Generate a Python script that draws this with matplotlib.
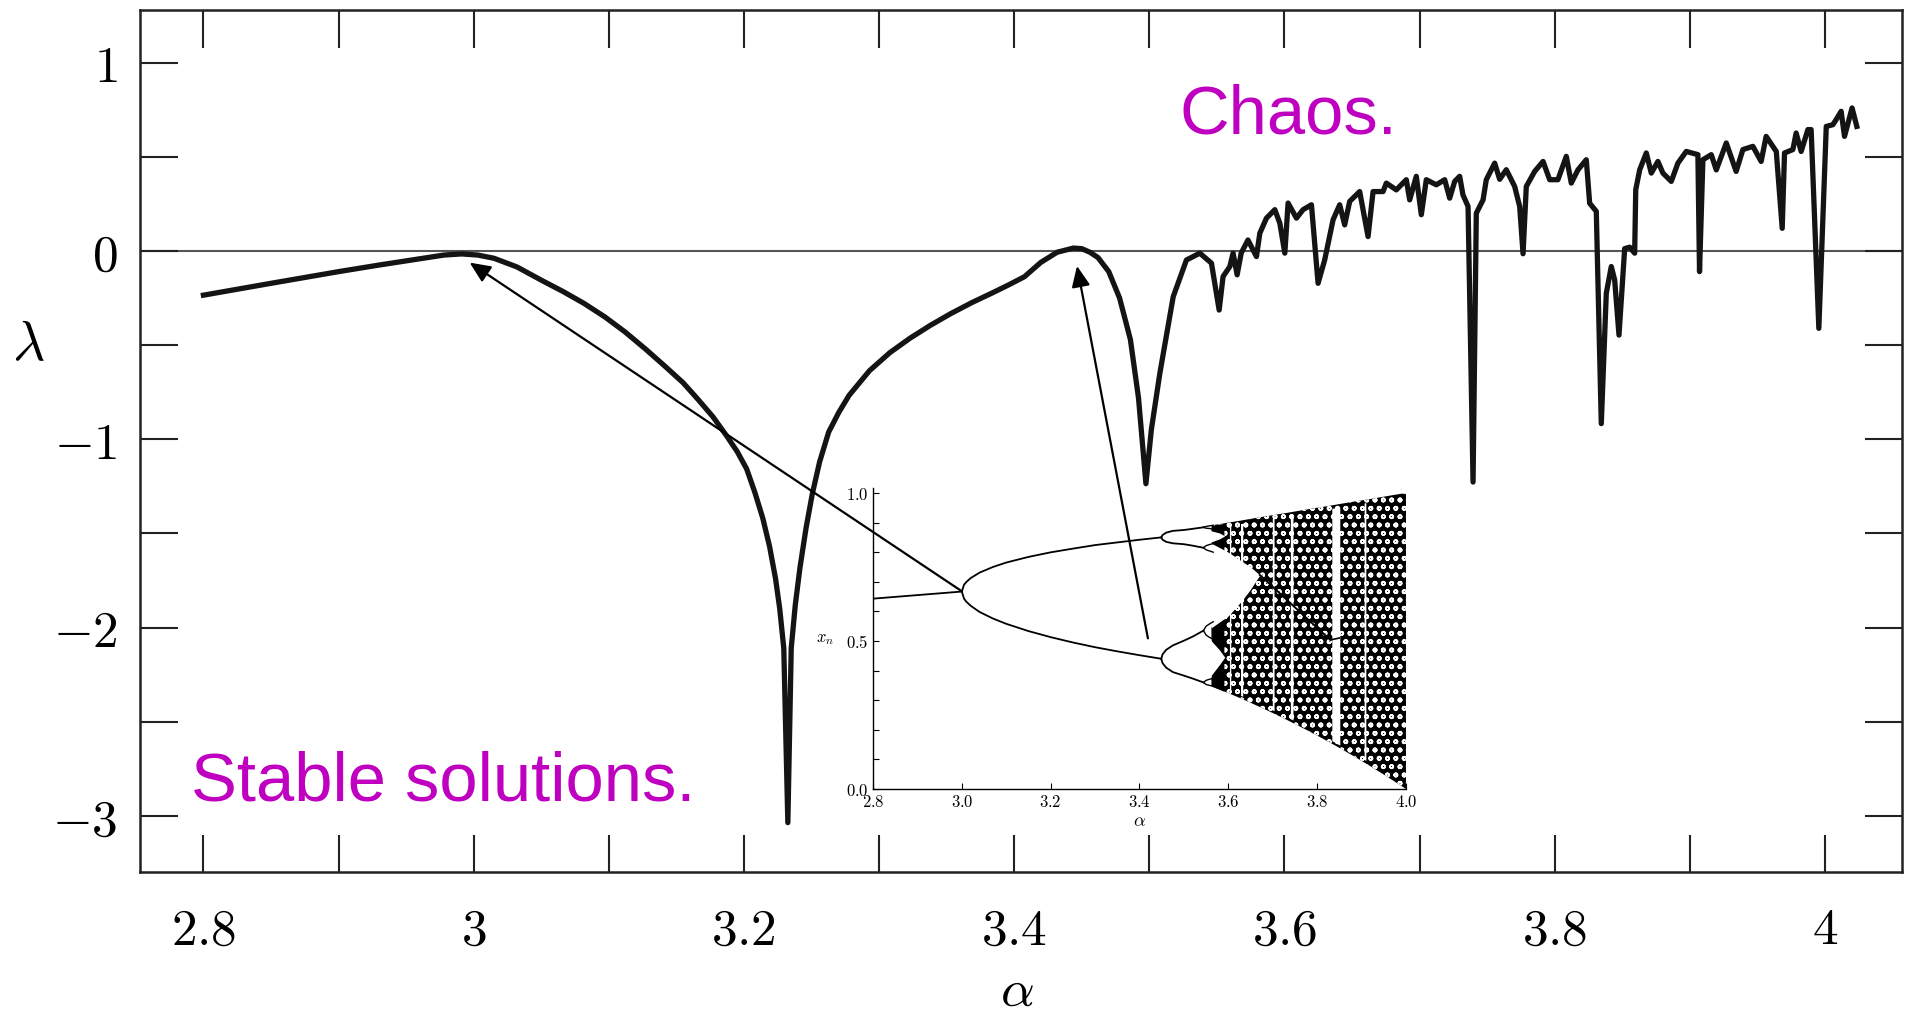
import numpy as np
import matplotlib.pyplot as plt
from matplotlib.ticker import MultipleLocator, FuncFormatter

plt.rcParams['mathtext.fontset'] = 'cm'
plt.rcParams['hatch.color'] = 'white'
plt.rcParams['hatch.linewidth'] = 1.2

# Exposant de Lyapunov
alpha = [2.800, 2.850, 2.900, 2.930, 2.960, 2.978, 2.991, 3.003, 3.015, 3.032,
         3.051, 3.066, 3.0815, 3.097, 3.112, 3.127, 3.142, 3.155, 3.166, 3.177,
         3.187, 3.195, 3.202, 3.208, 3.214, 3.219, 3.2234, 3.2265, 3.2295, 3.2325,
         3.235, 3.238, 3.2415, 3.246, 3.2506, 3.256, 3.2627, 3.270, 3.2778, 3.2929,
         3.308, 3.323, 3.338, 3.3533, 3.3685, 3.3835, 3.396, 3.4076, 3.4197, 3.4318,
         3.4438, 3.450, 3.456, 3.462, 3.470, 3.478, 3.486, 3.492, 3.4975, 3.5015,
         3.5078, 3.5177, 3.5275,
         3.5374, 3.546, 3.5517, 3.5546, 3.5596, 3.562, 3.565, 3.568, 3.573, 3.5793,
         3.5818, 3.5867, 3.5929, 3.5966, 3.6003, 3.6027, 3.6089, 3.6138, 3.620, 3.6249,
         3.6298, 3.636, 3.6409, 3.6446, 3.6483, 3.6557, 3.6619, 3.6656, 3.673, 3.6754,
         3.6828, 3.6902, 3.6927, 3.6976, 3.7013, 3.705, 3.7124, 3.7186, 3.7223, 3.726,
         3.7297, 3.7321, 3.7359, 3.7396, 3.742, 3.747, 3.7494, 3.7556, 3.7593, 3.7642,
         3.7704, 3.7741, 3.7766, 3.779, 3.7852, 3.7914, 3.7963, 3.8024, 3.8086, 3.8123,
         3.8172, 3.8234, 3.8259, 3.8308, 3.8345, 3.8382, 3.8419, 3.8444, 3.8476, 3.8518,
         3.8555, 3.8592, 3.8600, 3.8629, 3.8678, 3.8715, 3.8764, 3.8801, 3.8863, 3.8912,
         3.8974, 3.9060, 3.9072, 3.9097, 3.9159, 3.9196, 3.9270, 3.9343, 3.9393, 3.9467,
         3.9528, 3.9565, 3.9640, 3.9684, 3.9701, 3.9763, 3.9787, 3.9824, 3.9874, 3.9898,
         3.9955, 4.0010, 4.0059, 4.0083, 4.0120, 4.0145, 4.0201, 4.0236]
lam = [-0.235, -0.172, -0.110, -0.075, -0.042, -0.022, -0.016, -0.022, -0.039, -0.085,
       -0.159, -0.215, -0.278, -0.350, -0.430, -0.520, -0.615, -0.700, -0.788, -0.880,
       -0.980, -1.065, -1.157, -1.280, -1.420, -1.570, -1.740, -1.900, -2.110, -3.035,
       -2.110, -1.880, -1.680, -1.470, -1.290, -1.120, -0.962, -0.860, -0.767, -0.636,
       -0.540, -0.463, -0.395, -0.332, -0.275, -0.224, -0.180, -0.137, -0.061, -0.007,
       0.015, 0.012, -0.007, -0.035, -0.110, -0.250, -0.470, -0.780, -1.236, -0.950,
       -0.650, -0.243, -0.048,
       -0.012, -0.065, -0.314, -0.136, -0.083, -0.012, -0.127, -0.012, 0.058, -0.030,
       0.094, 0.174, 0.219, 0.147, -0.012, 0.254, 0.174, 0.219, 0.245, -0.172,
       -0.048, 0.165, 0.245, 0.138, 0.263, 0.315, 0.076, 0.315, 0.315, 0.360,
       0.324, 0.378, 0.271, 0.396, 0.192, 0.378, 0.351, 0.378, 0.280, 0.369,
       0.396, 0.298, 0.236, -1.227, 0.200, 0.271, 0.378, 0.466, 0.380, 0.431,
       0.342, 0.236, -0.015, 0.342, 0.422, 0.475, 0.378, 0.378, 0.502, 0.360,
       0.430, 0.484, 0.253, 0.210, -0.917, -0.225, -0.083, -0.154, -0.447, 0.012,
       0.020, -0.012, 0.325, 0.430, 0.520, 0.413, 0.475, 0.413, 0.369, 0.466,
       0.528, 0.511, -0.110, 0.484, 0.511, 0.430, 0.573, 0.422, 0.538, 0.555,
       0.475, 0.608, 0.528, 0.120, 0.520, 0.538, 0.626, 0.528, 0.644, 0.644,
       -0.411, 0.661, 0.670, 0.697, 0.741, 0.608, 0.759, 0.661]

# Diagramme de bifurcation (encart)
p1_r = [2.8, 2.9, 3.0]
p1_x = [0.643, 0.655, 0.667]

p2_r = [3.0, 3.005, 3.01, 3.02, 3.04, 3.07, 3.1, 3.15, 3.2, 3.25, 3.3, 3.35, 3.4, 3.449]
p2_hi = [0.667, 0.690, 0.699, 0.7125, 0.731, 0.750, 0.765, 0.784, 0.7995, 0.812, 0.824, 0.833, 0.842, 0.850]
p2_lo = [0.667, 0.643, 0.633, 0.619, 0.598, 0.576, 0.558, 0.5335, 0.513, 0.495, 0.479, 0.465, 0.452, 0.440]

p4_r = [3.449, 3.452, 3.46, 3.475, 3.5, 3.52, 3.544]
p4_a = [0.850, 0.858, 0.866, 0.872, 0.875, 0.879, 0.884]
p4_b = [0.850, 0.842, 0.835, 0.830, 0.827, 0.822, 0.815]
p4_c = [0.440, 0.455, 0.470, 0.485, 0.501, 0.515, 0.535]
p4_d = [0.440, 0.425, 0.410, 0.395, 0.383, 0.373, 0.360]

p8_r = [3.544, 3.55, 3.558, 3.566]
p8 = [[0.884, 0.887, 0.889, 0.891], [0.884, 0.881, 0.880, 0.878],
      [0.815, 0.822, 0.826, 0.829], [0.815, 0.808, 0.804, 0.800],
      [0.535, 0.550, 0.558, 0.565], [0.535, 0.520, 0.512, 0.505],
      [0.360, 0.367, 0.371, 0.373], [0.360, 0.353, 0.350, 0.347]]

ch_r = [3.562, 3.58, 3.60, 3.625, 3.65, 3.675, 3.70, 3.725, 3.75, 3.775,
        3.80, 3.825, 3.85, 3.875, 3.90, 3.925, 3.95, 3.975, 4.0]
ch_top = [0.8905, 0.895, 0.900, 0.906, 0.9125, 0.919, 0.925, 0.931, 0.9375, 0.944,
          0.950, 0.956, 0.9625, 0.969, 0.975, 0.981, 0.9875, 0.994, 1.0]
ch_bot = [0.3473, 0.3364, 0.324, 0.308, 0.2914, 0.2743, 0.2567, 0.2385, 0.2197, 0.2004,
          0.1805, 0.160, 0.139, 0.1173, 0.0951, 0.0722, 0.0488, 0.0247, 0.0]
# debut du chaos, plus dense
dense_r = [3.562, 3.58, 3.59]

gap_r = [3.556, 3.562, 3.60, 3.63, 3.65, 3.671]
gap_top = [0.826, 0.83, 0.80, 0.77, 0.75, 0.723]
gap_bot = [0.568, 0.545, 0.585, 0.635, 0.675, 0.723]
gap2_r = [3.556, 3.562, 3.58, 3.592]
gap2_top = [0.508, 0.50, 0.47, 0.445]
gap2_bot = [0.375, 0.385, 0.42, 0.445]
gap3_r = [3.556, 3.562, 3.58, 3.592]
gap3_top = [0.877, 0.872, 0.865, 0.855]
gap3_bot = [0.830, 0.835, 0.845, 0.855]

win_lo = [3.6025, 3.6275, 3.699, 3.7396, 3.833, 3.9057]
win_hi = [3.6055, 3.6325, 3.703, 3.7456, 3.851, 3.9097]

fig = plt.figure(figsize=(19.09, 10.17), dpi=100)
ax = fig.add_axes([0.0733, 0.1426, 0.9230, 0.8474])
ax.axhline(0, color='#555555', lw=1.5, zorder=1)
ax.plot(alpha, lam, color='#141414', lw=3.8, zorder=3)
ax.set_xlim(2.753, 4.057)
ax.set_ylim(-3.297, 1.278)
ax.xaxis.set_major_locator(MultipleLocator(0.2))
ax.xaxis.set_minor_locator(MultipleLocator(0.1))
ax.yaxis.set_major_locator(MultipleLocator(1))
ax.yaxis.set_minor_locator(MultipleLocator(0.5))
fmt = FuncFormatter(lambda v, p: '$%g$' % round(v, 3))
ax.xaxis.set_major_formatter(fmt)
ax.yaxis.set_major_formatter(fmt)
ax.tick_params(which='both', direction='in', top=True, right=True,
               length=27, width=1.5, color='#222222')
ax.tick_params(axis='x', labelsize=37, pad=24)
ax.tick_params(axis='y', labelsize=37, pad=16)
for s in ax.spines.values():
    s.set_linewidth(1.8)
    s.set_color('#222222')
ax.set_xlabel(r'$\alpha$', fontsize=38, va='center')
ax.xaxis.set_label_coords(0.4977, -0.138)
ax.set_ylabel(r'$\lambda$', fontsize=40, rotation=0, va='center', ha='center')
ax.yaxis.set_label_coords(-0.0636, 0.611)

ax.text(2.791, -2.92, 'Stable solutions.', color='#C000C0', fontsize=49.5,
        family='Liberation Sans', va='baseline', ha='left')
ax.text(3.522, 0.622, 'Chaos.', color='#C000C0', fontsize=49.5,
        family='Liberation Sans', va='baseline', ha='left')

# encart
axi = fig.add_axes([0.4573, 0.2242, 0.2792, 0.296])
axi.set_xlim(2.8, 4.0)
axi.set_ylim(0, 1.017)
axi.spines['top'].set_visible(False)
axi.spines['right'].set_visible(False)
for s in ['left', 'bottom']:
    axi.spines[s].set_linewidth(1.0)
axi.xaxis.set_major_locator(MultipleLocator(0.2))
axi.yaxis.set_major_locator(MultipleLocator(0.5))
axi.yaxis.set_minor_locator(MultipleLocator(0.1))
fmt1 = FuncFormatter(lambda v, p: '$%.1f$' % v)
axi.xaxis.set_major_formatter(fmt1)
axi.yaxis.set_major_formatter(fmt1)
axi.tick_params(which='both', direction='in', length=4.5, width=0.8, labelsize=12, pad=3)
axi.set_xlabel(r'$\alpha$', fontsize=13, labelpad=1)
axi.text(-0.09, 0.5, r'$x_n$', transform=axi.transAxes, ha='center', va='center', fontsize=12)

lw_b = 1.3
axi.plot(p1_r, p1_x, color='black', lw=lw_b)
axi.plot(p2_r, p2_hi, color='black', lw=lw_b)
axi.plot(p2_r, p2_lo, color='black', lw=lw_b)
for br in [p4_a, p4_b, p4_c, p4_d]:
    axi.plot(p4_r, br, color='black', lw=lw_b)

axi.fill_between(ch_r, ch_bot, ch_top, facecolor='black', edgecolor='white',
                 hatch='oo', linewidth=0)
axi.fill_between(dense_r, np.interp(dense_r, ch_r, ch_bot), np.interp(dense_r, ch_r, ch_top),
                 color='black', linewidth=0)
axi.fill_between(gap_r, gap_bot, gap_top, color='white', linewidth=0)
axi.fill_between(gap2_r, gap2_bot, gap2_top, color='white', linewidth=0)
axi.fill_between(gap3_r, gap3_bot, gap3_top, color='white', linewidth=0)
for br in p8:
    axi.plot(p8_r, br, color='black', lw=1.0)
for lo, hi in zip(win_lo, win_hi):
    xs = [lo, hi]
    axi.fill_between(xs, np.interp(xs, ch_r, ch_bot) + 0.01, np.interp(xs, ch_r, ch_top) - 0.01,
                     color='white', linewidth=0)
axi.plot([3.671, 3.83], [0.723, 0.503], color='black', lw=1.4)
axi.plot([3.834, 3.850], [0.505, 0.51], color='black', lw=1.2)

arrow = dict(arrowstyle='-|>,head_length=0.45,head_width=0.2', color='black', lw=1.6,
             mutation_scale=28, shrinkA=0, shrinkB=0)
axi.annotate('', xy=(2.997, -0.062), xycoords=ax.transData, xytext=(3.0, 0.668),
             textcoords='data', arrowprops=arrow, annotation_clip=False)
axi.annotate('', xy=(3.4465, -0.08), xycoords=ax.transData, xytext=(3.419, 0.509),
             textcoords='data', arrowprops=arrow, annotation_clip=False)

fig.savefig('out.png', dpi=100)
